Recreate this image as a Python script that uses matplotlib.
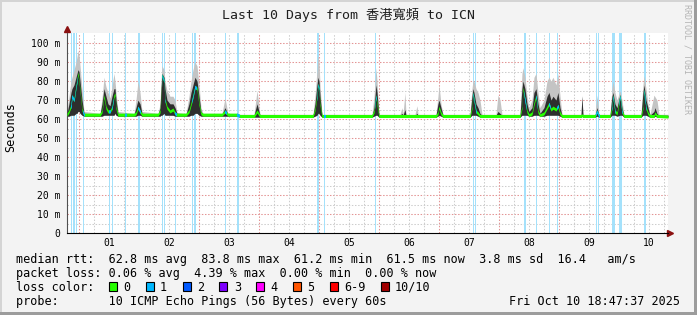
import numpy as np
import matplotlib
matplotlib.use("Agg")
import matplotlib.pyplot as plt
from matplotlib.patches import Rectangle

plt.rcParams['font.family'] = ['DejaVu Sans Mono', 'Noto Sans CJK TC']

# =====================================
# DATA  (time = days since Oct 01 00:00, values in ms)
# =====================================

t_day = [
    -0.200, -0.167, -0.133, -0.117, -0.083, -0.050, -0.033, -0.017, 0.000, 0.017, 0.050, 0.083,
    0.350, 0.383, 0.417, 0.450, 0.483, 0.517, 0.550, 0.583, 0.600, 0.617, 0.650,
    0.917, 0.950, 0.983, 1.017, 1.050,
    1.317, 1.350, 1.367, 1.383, 1.417, 1.433, 1.467, 1.517, 1.567, 1.600, 1.633,
    1.783, 1.833, 1.867, 1.900, 1.933, 1.967, 2.000, 2.033, 2.067,
    2.383, 2.433, 2.483, 2.633, 2.683, 2.917, 2.967, 3.017,
    3.900, 3.933, 3.967, 3.983, 4.000, 4.017, 4.050,
    4.883, 4.917, 4.950, 4.967, 5.000, 5.350, 5.383, 5.400, 5.433, 5.450, 5.600, 5.633, 5.650,
    5.950, 5.983, 6.000, 6.033, 6.067, 6.517, 6.550, 6.567, 6.583, 6.617, 6.650, 6.683, 6.717, 6.950, 6.983, 7.017, 7.050,
    7.350, 7.383, 7.400, 7.433, 7.467, 7.500, 7.550, 7.583, 7.617, 7.650, 7.683, 7.750, 7.800, 7.833, 7.867, 7.900, 7.950, 7.983, 8.017, 8.050,
    8.367, 8.383, 8.400, 8.600, 8.633, 8.667, 8.850, 8.883, 8.900, 8.933, 8.967, 9.017, 9.050, 9.083,
    9.367, 9.400, 9.417, 9.450, 9.483, 9.517, 9.583, 9.600, 9.633, 9.667, 9.817,
]

median_ms = [
    62.3, 64, 67, 72, 70, 77, 80, 84, 80, 75, 65, 62.3,
    62.3, 64, 72, 66, 64, 64, 66, 72, 73, 66, 62.3,
    62.3, 63, 66, 64, 62.3,
    62.3, 64, 72, 83, 80, 70, 66, 64, 65, 63, 62.3,
    62.3, 64, 68, 72, 77, 76, 68, 63, 62.3,
    62.3, 64, 62.3, 62.3, 61.6, 61.6, 64, 61.6,
    61.6, 65, 72, 78, 76, 68, 61.6,
    61.6, 64, 72, 68, 61.6, 61.6, 61.6, 61.6, 61.6, 61.6, 61.6, 61.6, 61.6,
    61.6, 63, 66, 63, 61.6, 61.6, 66, 73.5, 70, 64, 63, 61.6, 61.6, 61.6, 61.6, 61.6, 61.6,
    61.6, 66, 76, 70, 64, 62, 63, 68, 72, 64, 62, 63, 66, 68, 65, 66, 65, 67, 63, 61.6,
    61.6, 62, 61.6, 61.6, 64, 61.6, 61.6, 66, 72, 64, 63, 72, 64, 61.6,
    61.6, 66, 75, 66, 63, 61.6, 61.6, 63, 61.6, 61.6, 61.3,
]

low_ms = [
    61.5, 61.5, 62, 62, 62, 63, 63, 64, 64, 63, 62, 61.5,
    61.5, 61.5, 62, 62, 62, 62, 62, 62, 63, 62, 61.5,
    61.5, 61.5, 62, 62, 61.5,
    61.5, 61.5, 62, 62, 63, 62, 62, 62, 62, 61.5, 61.5,
    61.5, 61.5, 62, 62, 63, 63, 62, 61.5, 61.5,
    61.5, 61.5, 61.5, 61.5, 61, 61, 61, 61,
    61, 61.5, 62, 63, 63, 62, 61,
    61, 61.5, 62, 62, 61, 61, 61, 61, 61, 61, 61, 61, 61,
    61, 61.5, 62, 61.5, 61, 61, 62, 62, 62, 62, 61.5, 61, 61, 61, 61, 61, 61,
    61, 62, 62, 62, 62, 61.5, 61.5, 62, 62, 62, 61.5, 61.5, 62, 62, 62, 62, 62, 62, 61.5, 61,
    61, 61.5, 61, 61, 61.5, 61, 61, 62, 62, 62, 61.5, 62, 62, 61,
    61, 62, 62, 62, 61.5, 61, 61, 61.5, 61, 61, 61,
]

core_ms = [
    63, 68, 74, 76, 78, 82, 84, 86, 85, 80, 70, 63,
    62.5, 68, 76, 72, 68, 67, 72, 76, 76, 70, 63,
    62.5, 66, 70, 68, 63,
    62.5, 66, 76, 84, 82, 76, 70, 68, 68, 66, 63,
    62.5, 68, 74, 78, 82, 80, 72, 64, 62.5,
    62.5, 66, 62.5, 62.5, 62, 62, 68, 62,
    62, 68, 78, 82, 80, 72, 62,
    62, 66, 78, 74, 62, 62, 63, 62, 65, 62, 62, 63, 62,
    62, 68, 70, 66, 62, 62, 72, 76, 74, 68, 66, 63, 62, 62, 64, 63, 62,
    62, 76, 80, 76, 68, 64, 66, 74, 76, 68, 63, 66, 72, 74, 70, 72, 70, 74, 66, 62,
    62, 72, 62, 62, 66, 62, 62, 72, 74, 68, 66, 73, 66, 62,
    62, 74, 78, 70, 66, 62, 64, 66, 63, 62, 62,
]

high_ms = [
    64, 72, 80, 82, 86, 90, 93, 96, 94, 88, 76, 64,
    63, 71, 82, 77, 74, 71, 77, 84, 80, 74, 64,
    63, 70, 80, 74, 64,
    63, 68, 80, 88, 86, 80, 75, 72, 72, 70, 63.5,
    63, 72, 80, 86, 90, 88, 78, 66, 63,
    63, 71, 63, 63, 62.5, 62.5, 75, 62.5,
    62.5, 72, 86, 94, 90, 78, 62.5,
    62.5, 72, 87, 80, 62.5, 62.5, 66, 62.5, 74, 62.5, 62.5, 67, 62.5,
    62.5, 72, 78, 68, 62.5, 62.5, 76, 80.5, 80, 76, 74, 70, 62.5, 62.5, 72.6, 70, 62.5,
    62.5, 84, 87, 82, 72, 66, 70, 82, 84, 74, 66, 70, 80, 82, 80, 82, 78, 84, 72, 62.5,
    62.5, 72.6, 62.5, 62.5, 72.6, 62.5, 62.5, 76, 80, 74, 70, 75, 70, 62.5,
    62.5, 78, 83, 76, 68, 62.5, 72.6, 71.7, 70, 62.5, 62.5,
]

# packet loss events (center in days, duration in hours)
loss_day = [-0.133, -0.117, -0.083, -0.038, 0.072, 0.512, 0.555, 0.772, 1.005,
            1.395, 1.422, 1.605, 1.888, 1.922, 1.950, 2.445, 2.645, 3.988, 4.088,
            4.938, 6.578, 6.605, 7.422, 7.450, 7.622, 7.838, 7.978, 8.628, 8.655,
            8.905, 9.017, 9.417, 9.445]
loss_hours = [0.4, 0.4, 0.6, 0.4, 0.4, 0.4, 0.4, 0.4, 0.8,
              0.4, 0.4, 0.4, 0.4, 0.4, 0.4, 0.4, 0.8, 0.8, 0.4,
              0.4, 0.4, 0.4, 0.4, 0.4, 0.4, 0.4, 0.4, 0.4, 0.4,
              1.2, 1.2, 0.4, 0.4]

day_labels = ["01", "02", "03", "04", "05", "06", "07", "08", "09", "10"]

loss_labels = ["0", "1", "2", "3", "4", "5", "6-9", "10/10"]
loss_colors = ["#26ff00", "#00b8ff", "#0059ff", "#7e00ff", "#ff00ff",
               "#ff5500", "#ff0000", "#a10000"]

title = "Last 10 Days from 香港寬頻 to ICN"
legend_rtt = "median rtt:  62.8 ms avg  83.8 ms max  61.2 ms min  61.5 ms now  3.8 ms sd  16.4   am/s"
legend_loss = "packet loss: 0.06 % avg  4.39 % max  0.00 % min  0.00 % now"
probe_text = "probe:       10 ICMP Echo Pings (56 Bytes) every 60s"
stamp_text = "Fri Oct 10 18:47:37 2025"

# =====================================
# FIGURE
# =====================================

W, H = 697, 315
CW = 7.1  # legend character width in px

t = np.array(t_day)
med = np.array(median_ms)
lo = np.array(low_ms)
core = np.array(core_ms)
hi = np.array(high_ms)
assert len(t) == len(med) == len(lo) == len(core) == len(hi)


def fx(px):
    return px / W


def fy(py):
    return 1 - py / H


fig = plt.figure(figsize=(W / 100, H / 100), dpi=100, facecolor="#f3f3f3")

# 3d-ish frame of the canvas
fig.add_artist(Rectangle((0, fy(2)), 1, 2 / H, transform=fig.transFigure, color="#d4d4d4", lw=0))
fig.add_artist(Rectangle((0, 0), 2 / W, 1, transform=fig.transFigure, color="#d4d4d4", lw=0))
fig.add_artist(Rectangle((0, 0), 1, 3 / H, transform=fig.transFigure, color="#9c9c9c", lw=0))
fig.add_artist(Rectangle((fx(694), 0), 3 / W, 1, transform=fig.transFigure, color="#9c9c9c", lw=0))

ax = fig.add_axes([fx(67), fy(233), (668 - 67) / W, 200 / H])
ax.set_facecolor("white")
ax.set_xlim(-0.2, 9.817)
ax.set_ylim(0, 105.3)

# grid
dots = (0, (1.4, 1.6))
for y in range(5, 105, 5):
    ax.axhline(y, color="#e39494" if y % 10 == 0 else "#cdcdcd", lw=0.75, ls=dots, zorder=0.5)
for x in np.arange(-0.0, 9.9, 0.25):
    ax.axvline(x, color="#e39494" if x % 1 == 0 else "#cdcdcd", lw=0.75, ls=dots, zorder=0.5)

# loss bars
for d, h in zip(loss_day, loss_hours):
    ax.axvspan(d - h / 48, d + h / 48, color="#a4e1fb", lw=0, zorder=1)

# smoke
ax.fill_between(t, lo, hi, color="#c4c4c4", lw=0, zorder=2)
ax.fill_between(t, lo, core, color="#2e2e2e", lw=0, zorder=3)

# median
ax.fill_between(t, med - 0.8, med + 0.8, color=loss_colors[0], lw=0, zorder=4)
for d, h in zip(loss_day, loss_hours):
    band = ax.fill_between(t, med - 0.8, med + 0.8, color=loss_colors[1], lw=0, zorder=5)
    band.set_clip_path(Rectangle((d - h / 48, 0), h / 24, 110, transform=ax.transData))

# axes
for s in ["top", "right"]:
    ax.spines[s].set_visible(False)
ax.spines["left"].set_color("#505050")
ax.spines["bottom"].set_color("black")
ax.spines["left"].set_linewidth(0.8)
ax.spines["bottom"].set_linewidth(0.8)
ax.plot([0], [1.0225], marker="^", ms=4.5, color="#8b1010", transform=ax.transAxes, clip_on=False)
ax.plot([1.004], [0], marker=">", ms=4.5, color="#8b1010", transform=ax.transAxes, clip_on=False)

ax.set_xticks(np.arange(10) + 0.5)
ax.set_xticklabels(day_labels)
ax.set_yticks(np.arange(0, 101, 10))
ax.set_yticklabels(["0"] + ["%d m" % v for v in range(10, 101, 10)])
ax.tick_params(axis="x", length=0, pad=3.5, labelsize=7)
ax.tick_params(axis="y", length=0, pad=5, labelsize=7)

# texts
fig.text(fx(348), fy(19), title, ha="center", va="baseline", fontsize=9.5, color="#202020")
fig.text(fx(11), fy(127), "Seconds", rotation=90, ha="center", va="center", fontsize=8.5)
fig.text(fx(687.5), fy(59), "RRDTOOL / TOBI OETIKER", rotation=270, ha="center", va="center",
         fontsize=6, color="#b4b4b4")

fig.text(fx(16), fy(263.5), legend_rtt, ha="left", va="baseline", fontsize=8.5)
fig.text(fx(16), fy(277.5), legend_loss, ha="left", va="baseline", fontsize=8.5)
fig.text(fx(16), fy(291), "loss color:", ha="left", va="baseline", fontsize=8.5)
bx = 109
for lab, col in zip(loss_labels, loss_colors):
    fig.add_artist(Rectangle((fx(bx), fy(291)), 8 / W, 9 / H, transform=fig.transFigure,
                             facecolor=col, edgecolor="black", lw=0.8))
    fig.text(fx(bx + 14.3), fy(291), lab, ha="left", va="baseline", fontsize=8.5)
    bx += 29.7 + len(lab) * CW
fig.text(fx(16), fy(305), probe_text, ha="left", va="baseline", fontsize=8.5)
fig.text(fx(680), fy(305), stamp_text, ha="right", va="baseline", fontsize=8.5)

fig.savefig("out.png", dpi=100, facecolor=fig.get_facecolor())
